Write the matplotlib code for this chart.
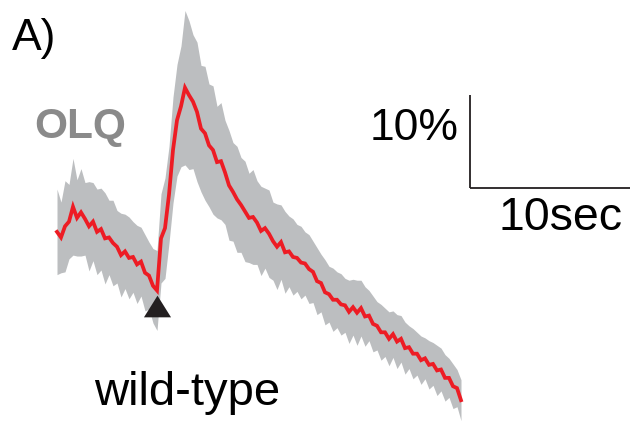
import numpy as np
import matplotlib
matplotlib.use("Agg")
import matplotlib.pyplot as plt

# ---- data (time in s, dF/F in %) ----
sample_dt = 0.25
mean_trace = [
    -0.2, -0.8, 0.4, 0.9, 2.5, 1.3, 1.9, 1.2, 0.4, 0.9, -0.2, 0.1, -0.9,
    -0.8, -1.4, -1.8, -2.7, -2.3, -3.0, -2.9, -3.7, -3.4, -4.6, -4.9, -6.0, -6.5,
    -0.9, 0.2, 3.8, 8.6, 11.8, 13.3, 15.3, 14.5, 13.8, 12.7, 10.9, 10.4, 9.1,
    8.6, 7.3, 7.4, 6.2, 4.8, 4.1, 3.3, 2.7, 2.0, 1.3, 1.4,
    0.8, -0.1, 0.2, -0.4, -1.2, -1.8, -1.3, -2.4, -2.3, -2.9, -3.0, -3.5, -3.6,
    -4.2, -4.5, -5.5, -5.7, -6.7, -6.9, -7.5, -7.5, -8.0, -8.1, -8.8, -8.3, -8.9,
    -8.4, -9.3, -9.2, -10.1, -10.3, -11.0, -11.0, -11.7, -11.2, -12.0, -11.7,
    -12.7, -12.6, -13.3, -13.3, -14.0, -13.8, -14.5, -14.4, -15.1, -15.0, -15.9,
    -15.9, -16.8, -17.0, -18.3,
]
sem_trace = [
    4.6, 3.8, 4.9, 4.0, 5.2, 4.1, 4.7, 3.9, 4.8, 4.2, 4.6,
    4.4, 4.9, 4.0, 4.6, 3.9, 4.5, 4.0, 4.4, 3.8, 4.2,
    3.7, 4.1, 3.6, 4.0, 4.3,
    4.8, 5.4, 5.2, 5.7, 6.0, 6.5, 8.3, 8.0, 7.2, 7.5, 6.8, 7.2, 6.6, 6.9,
    6.0, 6.3, 5.6, 5.9, 5.3, 5.7, 5.1, 5.4, 4.8, 5.1,
    4.5, 4.8, 4.3, 4.7, 4.2, 4.6, 4.0, 4.4, 3.8, 4.1, 3.6, 3.9, 3.4, 3.7,
    3.3, 3.6, 3.1, 3.5, 3.0, 3.4, 3.0, 3.3, 2.9, 3.4, 3.0, 3.5, 3.0, 3.2,
    2.7, 3.0, 2.6, 3.0, 2.6, 2.9, 2.5, 2.9, 2.5, 2.8, 2.3, 2.7, 2.3, 2.6,
    2.2, 2.6, 2.3, 2.7, 2.3, 2.5, 2.1, 2.4, 2.0, 2.2,
]
stim_time = 6.25
stim_marker_level = -8.2
scale_time = 10      # sec
scale_amp = 10       # %
scale_origin = (25.81, 4.52)

panel_label = "A)"
neuron_label = "OLQ"
genotype_label = "wild-type"
amp_label = "10%"
time_label = "10sec"

# ---- figure ----
mean = np.array(mean_trace)
sem = np.array(sem_trace)
t = np.arange(len(mean)) * sample_dt

W, H = 632, 421
fig = plt.figure(figsize=(W / 100, H / 100), dpi=100)
ax = fig.add_axes([0, 0, 1, 1])
ax.set_xlim(-57 / 16, (W - 57) / 16)
ax.set_ylim((230 - H) / 9.3, 230 / 9.3)
ax.axis("off")

font = "Liberation Sans"
red = "#ed1c24"
grey = "#bcbec0"
dark = "#231f20"

ax.fill_between(t, mean - sem, mean + sem, color=grey, linewidth=0, zorder=1)
ax.plot(t, mean, color=red, linewidth=2.7, zorder=2, solid_joinstyle="miter")

ax.plot([stim_time], [stim_marker_level], linestyle="none",
        marker=[(0, 0.8), (-1, -0.8), (1, -0.8)], markersize=19.5,
        color=dark, markeredgewidth=0, zorder=3)

x0, y0 = scale_origin
ax.plot([x0, x0], [y0, y0 + scale_amp], color=dark, linewidth=1.3,
        solid_capstyle="butt")
ax.plot([x0, x0 + scale_time], [y0, y0], color=dark, linewidth=1.3,
        solid_capstyle="butt")

tr = ax.transAxes
ax.text(12 / W, 1 - 50 / H, panel_label, transform=tr, fontsize=32,
        family=font, va="baseline", ha="left", color="black")
ax.text(34 / W, 1 - 138 / H, neuron_label, transform=tr, fontsize=30.5,
        family=font, fontweight="bold", va="baseline", ha="left",
        color="#8a8a8a")
ax.text(459 / W, 1 - 140 / H, amp_label, transform=tr, fontsize=32,
        family=font, va="baseline", ha="right", color="black")
ax.text(498 / W, 1 - 230 / H, time_label, transform=tr, fontsize=33.5,
        family=font, va="baseline", ha="left", color="black")
ax.text(94 / W, 1 - 405 / H, genotype_label, transform=tr, fontsize=34,
        family=font, va="baseline", ha="left", color="black")

fig.savefig("out.png", dpi=100)
